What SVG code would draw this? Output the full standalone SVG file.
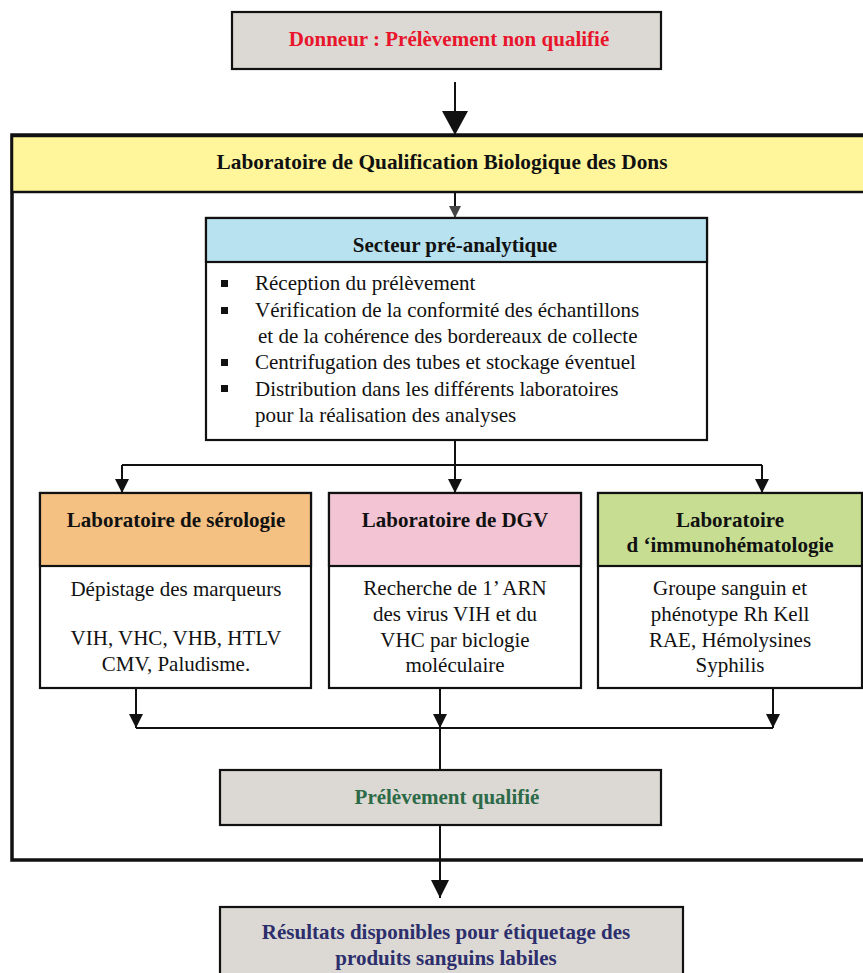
<svg xmlns="http://www.w3.org/2000/svg" width="863" height="973" viewBox="0 0 863 973">
<style>
text{font-family:"Liberation Serif","Times New Roman",serif;fill:#111;}
.b{font-weight:bold;}
.c{text-anchor:middle;}
.t18{font-size:21px;}
.box{stroke:#111;stroke-width:2.2;}
.con{fill:none;stroke:#111;stroke-width:2;}
</style>
<defs>
<marker id="big" markerUnits="userSpaceOnUse" markerWidth="24" markerHeight="26" refX="24" refY="13" orient="auto"><path d="M0,0 L24,13 L0,26 z" fill="#111"/></marker>
<marker id="sm" markerUnits="userSpaceOnUse" markerWidth="14" markerHeight="14" refX="14" refY="7" orient="auto"><path d="M0,0 L14,7 L0,14 z" fill="#111"/></marker>
<marker id="smg" markerUnits="userSpaceOnUse" markerWidth="12" markerHeight="12" refX="12" refY="6" orient="auto"><path d="M0,0 L12,6 L0,12 z" fill="#444"/></marker>
<marker id="mid" markerUnits="userSpaceOnUse" markerWidth="18" markerHeight="18" refX="18" refY="9" orient="auto"><path d="M0,0 L18,9 L0,18 z" fill="#111"/></marker>
</defs>

<g id="lqbd">
<rect x="12" y="135" width="856" height="725" fill="#fff" stroke="#111" stroke-width="3.5"/>
<rect x="12" y="136" width="856" height="56" fill="#fff69c" stroke="#111" stroke-width="2.5"/>
<text x="442" y="169" class="b c t18" textLength="451" lengthAdjust="spacingAndGlyphs">Laboratoire de Qualification Biologique des Dons</text>
</g>

<g id="donneur">
<rect x="232" y="12" width="429" height="57" fill="#dcd9d4" class="box"/>
<text x="449" y="46" class="b c t18" style="fill:#e8152c">Donneur : Prélèvement non qualifié</text>
</g>

<g id="preanalytique">
<rect x="206" y="218" width="501" height="222" fill="#fff" class="box"/>
<rect x="206" y="218" width="501" height="44" fill="#b8e2ef" class="box"/>
<text x="455" y="252" class="b c t18">Secteur pré-analytique</text>
<rect x="221" y="280" width="7" height="7" fill="#111"/>
<rect x="221" y="307" width="7" height="7" fill="#111"/>
<rect x="221" y="359" width="7" height="7" fill="#111"/>
<rect x="221" y="385" width="7" height="7" fill="#111"/>
<text x="255" y="290" class="t18">Réception du prélèvement</text>
<text x="255" y="317" class="t18">Vérification de la conformité des échantillons</text>
<text x="258" y="343" class="t18">et de la cohérence des bordereaux de collecte</text>
<text x="255" y="369" class="t18">Centrifugation des tubes et stockage éventuel</text>
<text x="255" y="396" class="t18">Distribution dans les différents laboratoires</text>
<text x="255" y="422" class="t18">pour la réalisation des analyses</text>
</g>

<g id="serologie">
<rect x="40" y="493" width="271" height="195" fill="#fff" class="box"/>
<rect x="40" y="493" width="271" height="73" fill="#f4c182" class="box"/>
<text x="176" y="527" class="b c t18">Laboratoire de sérologie</text>
<text x="176" y="596" class="c t18">Dépistage des marqueurs</text>
<text x="176" y="645" class="c t18">VIH, VHC, VHB, HTLV</text>
<text x="176" y="671" class="c t18">CMV, Paludisme.</text>
</g>

<g id="dgv">
<rect x="329" y="493" width="252" height="195" fill="#fff" class="box"/>
<rect x="329" y="493" width="252" height="73" fill="#f3c4d4" class="box"/>
<text x="455" y="527" class="b c t18">Laboratoire de DGV</text>
<text x="455" y="595" class="c t18">Recherche de 1’ ARN</text>
<text x="455" y="621" class="c t18">des virus VIH et du</text>
<text x="455" y="647" class="c t18">VHC par biclogie</text>
<text x="455" y="672" class="c t18">moléculaire</text>
</g>

<g id="immuno">
<rect x="598" y="493" width="264" height="195" fill="#fff" class="box"/>
<rect x="598" y="493" width="264" height="73" fill="#c6dd92" class="box"/>
<text x="730" y="527" class="b c t18">Laboratoire</text>
<text x="730" y="552" class="b c t18">d ‘immunohématologie</text>
<text x="730" y="595" class="c t18">Groupe sanguin et</text>
<text x="730" y="621" class="c t18">phénotype Rh Kell</text>
<text x="730" y="647" class="c t18">RAE, Hémolysines</text>
<text x="730" y="672" class="c t18">Syphilis</text>
</g>

<g id="qualifie">
<rect x="220" y="770" width="441" height="55" fill="#dcd9d4" class="box"/>
<text x="447" y="804" class="b c t18" style="fill:#2d6a48">Prélèvement qualifié</text>
</g>

<g id="resultats">
<rect x="220" y="907" width="463" height="70" fill="#dcd9d4" class="box"/>
<text x="446" y="939" class="b c t18" style="fill:#2c2f6c">Résultats disponibles pour étiquetage des</text>
<text x="446" y="965" class="b c t18" style="fill:#2c2f6c">produits sanguins labiles</text>
</g>

<g id="connectors">
<path d="M455,82 V135" class="con" stroke-width="5" marker-end="url(#big)"/>
<path d="M455,193 V218" class="con" stroke="#444" stroke-width="1.5" marker-end="url(#smg)"/>
<path d="M455,441 V465 M122,465 H762" class="con"/>
<path d="M122,465 V493" class="con" marker-end="url(#sm)"/>
<path d="M455,465 V493" class="con" marker-end="url(#sm)"/>
<path d="M762,465 V493" class="con" marker-end="url(#sm)"/>
<path d="M136,689 V728" class="con" marker-end="url(#sm)"/>
<path d="M440,689 V728" class="con" stroke-width="3" marker-end="url(#sm)"/>
<path d="M773,689 V728" class="con" stroke-width="1.5" marker-end="url(#sm)"/>
<path d="M136,728 H773" class="con"/>
<path d="M440,728 V770" class="con" stroke-width="3"/>
<path d="M440,826 V898" class="con" stroke-width="3" marker-end="url(#mid)"/>
</g>
</svg>
